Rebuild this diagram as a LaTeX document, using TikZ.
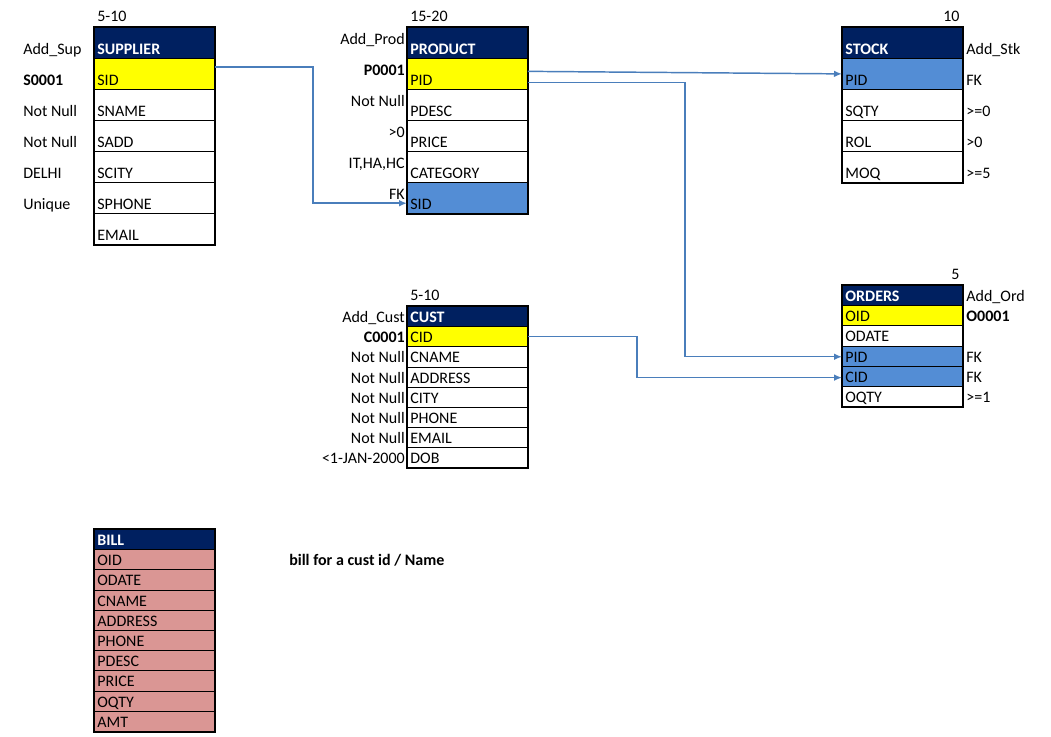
\documentclass[tikz,border=0pt]{standalone}
\usepackage{fontspec}
\setmainfont{Carlito}
\usepackage{xcolor}
\usepackage{tikz}
\usetikzlibrary{arrows.meta}

\definecolor{navy}{HTML}{002060}
\definecolor{keyyellow}{HTML}{FFFF00}
\definecolor{fkblue}{HTML}{538DD5}
\definecolor{billpink}{HTML}{DA9694}
\definecolor{linkblue}{HTML}{4A7EBB}
\newcommand{\cellfont}{\fontsize{12pt}{14pt}\selectfont}

\begin{document}
\begin{tikzpicture}[x=0.75pt, y=-0.75pt, font=\cellfont,
    bigrow/.style={draw, line width=0.6pt, text width=85.5pt, align=left, inner xsep=2.25pt, inner ysep=0pt,
      text height=20.25pt, text depth=3pt, node distance=23.25pt},
    smallrow/.style={draw, line width=0.6pt, text width=85.5pt, align=left, inner xsep=2.25pt, inner ysep=0pt,
      text height=12.15pt, text depth=3pt, node distance=15.15pt},
    hdr/.style={fill=navy, text=white, font=\cellfont\bfseries},
    pkey/.style={fill=keyyellow},
    fkey/.style={fill=fkblue},
    billrow/.style={fill=billpink},
    lbl/.style={inner sep=0pt},
    tblframe/.style={line width=1.5pt},
    fklink/.style={draw=linkblue, line width=1.1pt, -{Latex[length=6pt,width=5pt]}}]
      \useasboundingbox (0,0) rectangle (1051,737);

      % SUPPLIER
      \node[bigrow, hdr, anchor=north west] (sup) at (94,27) {SUPPLIER};
      \node[bigrow, pkey, below of=sup] (sup-sid) {SID};
      \node[bigrow, below of=sup-sid] (sup-sname) {SNAME};
      \node[bigrow, below of=sup-sname] (sup-sadd) {SADD};
      \node[bigrow, below of=sup-sadd] (sup-scity) {SCITY};
      \node[bigrow, below of=sup-scity] (sup-sphone) {SPHONE};
      \node[bigrow, below of=sup-sphone] (sup-email) {EMAIL};
      \draw[tblframe] (sup.north west) rectangle (sup-email.south east);
      \node[lbl, anchor=base west] (sup-size) at ([xshift=2.25pt, yshift=4pt]sup.north west) {5-10};
      \node[lbl, anchor=base west] (sup-add) at ([xshift=-53.25pt]sup.base west) {Add\_Sup};
      \node[lbl, anchor=base west, font=\cellfont\bfseries] (sup-ex) at ([xshift=-53.25pt]sup-sid.base west) {S0001};
      \node[lbl, anchor=base west] (sup-c1) at ([xshift=-53.25pt]sup-sname.base west) {Not Null};
      \node[lbl, anchor=base west] (sup-c2) at ([xshift=-53.25pt]sup-sadd.base west) {Not Null};
      \node[lbl, anchor=base west] (sup-c3) at ([xshift=-53.25pt]sup-scity.base west) {DELHI};
      \node[lbl, anchor=base west] (sup-c4) at ([xshift=-53.25pt]sup-sphone.base west) {Unique};

      % PRODUCT
      \node[bigrow, hdr, anchor=north west] (prod) at (407,27) {PRODUCT};
      \node[bigrow, pkey, below of=prod] (p-pid) {PID};
      \node[bigrow, below of=p-pid] (p-pdesc) {PDESC};
      \node[bigrow, below of=p-pdesc] (p-price) {PRICE};
      \node[bigrow, below of=p-price] (p-cat) {CATEGORY};
      \node[bigrow, fkey, below of=p-cat] (p-sid) {SID};
      \draw[tblframe] (prod.north west) rectangle (p-sid.south east);
      \node[lbl, anchor=base west] (prod-size) at ([xshift=2.25pt, yshift=4pt]prod.north west) {15-20};
      \node[lbl, anchor=base east] (prod-add) at ([xshift=-1.5pt, yshift=7.5pt]prod.base west) {Add\_Prod};
      \node[lbl, anchor=base east, font=\cellfont\bfseries] (prod-ex) at ([xshift=-1.5pt, yshift=7.5pt]p-pid.base west) {P0001};
      \node[lbl, anchor=base east] (prod-c1) at ([xshift=-1.5pt, yshift=7.5pt]p-pdesc.base west) {Not Null};
      \node[lbl, anchor=base east] (prod-c2) at ([xshift=-1.5pt, yshift=7.5pt]p-price.base west) {>0};
      \node[lbl, anchor=base east] (prod-c3) at ([xshift=-1.5pt, yshift=7.5pt]p-cat.base west) {IT,HA,HC};
      \node[lbl, anchor=base east] (prod-c4) at ([xshift=-1.5pt, yshift=7.5pt]p-sid.base west) {FK};

      % STOCK
      \node[bigrow, hdr, anchor=north west] (st) at (842,27) {STOCK};
      \node[bigrow, fkey, below of=st] (st-pid) {PID};
      \node[bigrow, below of=st-pid] (st-sqty) {SQTY};
      \node[bigrow, below of=st-sqty] (st-rol) {ROL};
      \node[bigrow, below of=st-rol] (st-moq) {MOQ};
      \draw[tblframe] (st.north west) rectangle (st-moq.south east);
      \node[lbl, anchor=base east] (st-size) at ([xshift=-2.25pt, yshift=4pt]st.north east) {10};
      \node[lbl, anchor=base west] (st-add) at ([xshift=2.5pt]st.base east) {Add\_Stk};
      \node[lbl, anchor=base west] (st-c1) at ([xshift=2.5pt]st-pid.base east) {FK};
      \node[lbl, anchor=base west] (st-c2) at ([xshift=2.5pt]st-sqty.base east) {>=0};
      \node[lbl, anchor=base west] (st-c3) at ([xshift=2.5pt]st-rol.base east) {>0};
      \node[lbl, anchor=base west] (st-c4) at ([xshift=2.5pt]st-moq.base east) {>=5};

      % CUST
      \node[smallrow, hdr, anchor=north west] (cust) at (407,306) {CUST};
      \node[smallrow, pkey, below of=cust] (c-cid) {CID};
      \node[smallrow, below of=c-cid] (c-cname) {CNAME};
      \node[smallrow, below of=c-cname] (c-addr) {ADDRESS};
      \node[smallrow, below of=c-addr] (c-city) {CITY};
      \node[smallrow, below of=c-city] (c-phone) {PHONE};
      \node[smallrow, below of=c-phone] (c-email) {EMAIL};
      \node[smallrow, below of=c-email] (c-dob) {DOB};
      \draw[tblframe] (cust.north west) rectangle (c-dob.south east);
      \node[lbl, anchor=base west] (cust-size) at ([xshift=2.25pt, yshift=4pt]cust.north west) {5-10};
      \node[lbl, anchor=base east] (cust-add) at ([xshift=-1.5pt]cust.base west) {Add\_Cust};
      \node[lbl, anchor=base east, font=\cellfont\bfseries] (cust-ex) at ([xshift=-1.5pt]c-cid.base west) {C0001};
      \node[lbl, anchor=base east] (cust-c1) at ([xshift=-1.5pt]c-cname.base west) {Not Null};
      \node[lbl, anchor=base east] (cust-c2) at ([xshift=-1.5pt]c-addr.base west) {Not Null};
      \node[lbl, anchor=base east] (cust-c3) at ([xshift=-1.5pt]c-city.base west) {Not Null};
      \node[lbl, anchor=base east] (cust-c4) at ([xshift=-1.5pt]c-phone.base west) {Not Null};
      \node[lbl, anchor=base east] (cust-c5) at ([xshift=-1.5pt]c-email.base west) {Not Null};
      \node[lbl, anchor=base east] (cust-c6) at ([xshift=-1.5pt]c-dob.base west) {<1-JAN-2000};

      % ORDERS
      \node[smallrow, hdr, anchor=north west] (ord) at (842,285) {ORDERS};
      \node[smallrow, pkey, below of=ord] (o-oid) {OID};
      \node[smallrow, below of=o-oid] (o-odate) {ODATE};
      \node[smallrow, fkey, below of=o-odate] (o-pid) {PID};
      \node[smallrow, fkey, below of=o-pid] (o-cid) {CID};
      \node[smallrow, below of=o-cid] (o-oqty) {OQTY};
      \draw[tblframe] (ord.north west) rectangle (o-oqty.south east);
      \node[lbl, anchor=base east] (ord-size) at ([xshift=-2.25pt, yshift=4pt]ord.north east) {5};
      \node[lbl, anchor=base west] (ord-add) at ([xshift=2.5pt]ord.base east) {Add\_Ord};
      \node[lbl, anchor=base west, font=\cellfont\bfseries] (ord-ex) at ([xshift=2.5pt]o-oid.base east) {O0001};
      \node[lbl, anchor=base west] (ord-c1) at ([xshift=2.5pt]o-pid.base east) {FK};
      \node[lbl, anchor=base west] (ord-c2) at ([xshift=2.5pt]o-cid.base east) {FK};
      \node[lbl, anchor=base west] (ord-c3) at ([xshift=2.5pt]o-oqty.base east) {>=1};

      % BILL
      \node[smallrow, hdr, anchor=north west] (bill) at (94,529) {BILL};
      \node[smallrow, billrow, below of=bill] (b-oid) {OID};
      \node[smallrow, billrow, below of=b-oid] (b-odate) {ODATE};
      \node[smallrow, billrow, below of=b-odate] (b-cname) {CNAME};
      \node[smallrow, billrow, below of=b-cname] (b-addr) {ADDRESS};
      \node[smallrow, billrow, below of=b-addr] (b-phone) {PHONE};
      \node[smallrow, billrow, below of=b-phone] (b-pdesc) {PDESC};
      \node[smallrow, billrow, below of=b-pdesc] (b-price) {PRICE};
      \node[smallrow, billrow, below of=b-price] (b-oqty) {OQTY};
      \node[smallrow, billrow, below of=b-oqty] (b-amt) {AMT};
      \draw[tblframe] (bill.north west) rectangle (b-amt.south east);
      \node[lbl, anchor=base west, font=\cellfont\bfseries] (billnote) at (289,566) {bill for a cust id / Name};

      % Claves foraneas
      \draw[fklink] ([yshift=5.25pt]sup-sid.east) -- ++(98,0) |- ([yshift=-4pt]p-sid.west);
      \draw[fklink] ([yshift=1.9pt]p-pid.east) -- (st-pid.west);
      \draw[fklink] ([yshift=-6.4pt]p-pid.east) -- ++(157,0) |- ([yshift=-0.5pt]o-pid.west);
      \draw[fklink] (c-cid.east) -- ++(109,0) |- ([yshift=-1pt]o-cid.west);
    \end{tikzpicture}
\end{document}
